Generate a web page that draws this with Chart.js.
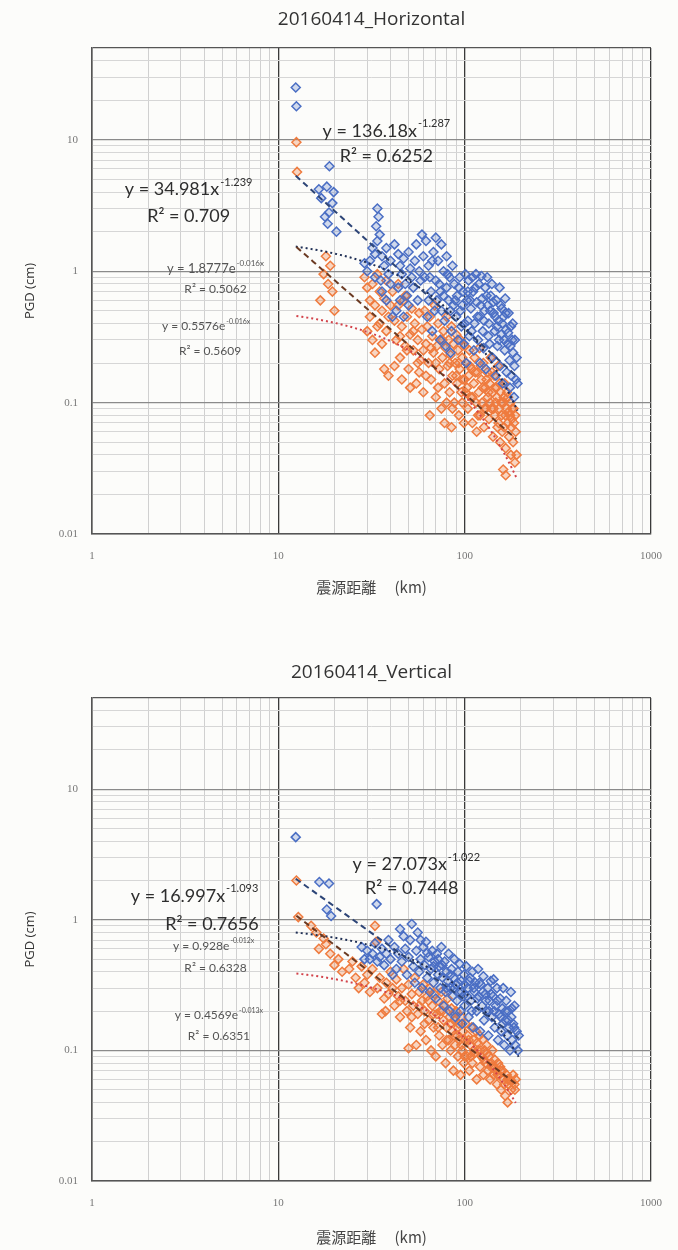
<!DOCTYPE html>
<html>
<head>
<meta charset="utf-8">
<script src="https://cdn.jsdelivr.net/npm/chart.js@4.4.1/dist/chart.umd.min.js"></script>
<style>
  html, body { margin: 0; padding: 0; background: #fcfcfa; overflow: hidden; }
  canvas { display: block; }
</style>
</head>
<body>
<canvas id="chart-h" width="678" height="625"></canvas>
<canvas id="chart-v" width="678" height="625"></canvas>
<script>
// axis ticks
const xTickValues = [1, 10, 100, 1000];
const xTickLabels = ['1', '10', '100', '1000'];
const yTickValues = [0.01, 0.1, 1, 10];
const yTickLabels = ['0.01', '0.1', '1', '10'];

// 20160414_Horizontal : [distance km, PGD cm]
const horizBlue = [
  [12.4,25],[12.5,18],
  [18.8,6.3],[16.5,4.2],[18.2,4.4],[19.8,4.0],[17.0,3.6],[19.5,3.3],[18.7,2.8],[18.4,2.3],[20.5,2.0],[17.8,2.6],
  [34,3.0],[34.5,2.6],[33.5,2.2],[35,1.9],[34,1.7],[32,1.5],[33,1.35],[31,1.2],[29,1.15],[30,1.0],[36,1.3],[37,1.1],
  [38,1.5],[39,0.95],[35.5,0.85],[33,0.9],[36,0.7],[38,0.6],[40,1.2],[40,0.8],
  [42,1.6],[44,1.35],[45,1.1],[46,0.95],[47,1.25],[48,0.8],[49,0.65],[50,1.4],[51,1.05],[52,0.9],[53,0.75],[54,1.2],
  [55,1.6],[56,0.6],[57,1.0],[58,0.85],[59,1.9],[60,1.3],[43,0.5],[47,0.45],[50,0.55],[45,0.6],[44,0.75],[41,0.45],
  [62,1.7],[64,1.1],[65,0.9],[66,0.7],[68,1.4],[70,1.8],[71,0.6],[72,1.2],[73,0.8],[75,1.6],[75,0.5],[77,1.0],
  [78,0.42],[80,0.75],[80,1.3],[82,0.6],[83,0.9],[85,0.35],[86,1.1],[87,0.55],[88,0.8],[90,0.45],[91,0.65],[92,0.3],
  [94,0.9],[95,0.5],[96,0.38],[98,0.7],[99,0.28],[63,0.45],[67,0.35],[69,0.5],[74,0.3],[79,0.27],[84,0.24],
  [61,0.9],[64,0.6],[67,1.2],[70,0.85],[74,0.7],[77,0.65],[81,0.95],[84,0.5],[89,0.6],[93,0.75],[97,0.55],
  [101,0.95],[103,0.6],[104,0.42],[105,0.85],[106,0.32],[108,0.52],[110,0.9],[111,0.7],[112,0.25],[113,0.4],
  [115,0.95],[116,0.58],[118,0.3],[119,0.8],[120,0.45],[121,0.2],[123,0.92],[124,0.62],[125,0.35],[126,0.26],
  [128,0.5],[129,0.75],[130,0.18],[102,0.2],[100,0.4],[104,0.7],[107,0.6],[109,0.35],[114,0.75],[117,0.45],
  [122,0.55],[127,0.42],
  [132,0.9],[133,0.55],[135,0.4],[136,0.28],[138,0.65],[140,0.8],[141,0.22],[143,0.48],[145,0.35],[147,0.16],
  [148,0.6],[150,0.27],[152,0.42],[154,0.75],[155,0.19],[157,0.33],[158,0.52],[160,0.14],[162,0.45],[164,0.25],
  [165,0.62],[167,0.36],[168,0.17],[170,0.28],[172,0.48],[174,0.21],[175,0.13],[177,0.38],[178,0.16],[180,0.3],
  [182,0.24],[184,0.11],[185,0.19],[188,0.15],[190,0.22],[192,0.14],
  [131,0.65],[134,0.32],[137,0.5],[142,0.58],[146,0.45],[149,0.38],[153,0.3],[156,0.55],[159,0.4],[163,0.3],
  [166,0.48],[171,0.34],[176,0.27],[181,0.4],[186,0.3]
];
const horizOrange = [
  [12.5,9.6],[12.6,5.7],
  [18,1.3],[19,1.1],[17.5,0.95],[18.5,0.8],[16.8,0.6],[19.5,0.7],[20,0.5],
  [29,0.9],[30,0.75],[31,0.6],[32,0.8],[33,0.55],[34,0.95],[35,0.7],[36,0.5],[37,0.62],[38,0.85],[39,0.45],
  [30,0.35],[32,0.3],[33,0.24],[35,0.4],[36,0.28],[37,0.18],[38,0.35],[39,0.16],[40,0.55],[31,0.45],[34,0.38],
  [41,0.7],[42,0.42],[43,0.3],[44,0.55],[45,0.22],[46,0.38],[47,0.6],[48,0.27],[49,0.45],[50,0.18],[51,0.33],
  [52,0.52],[53,0.25],[54,0.4],[55,0.14],[56,0.3],[57,0.48],[58,0.21],[59,0.36],[60,0.12],[42,0.19],[46,0.15],
  [51,0.13],[56,0.2],[44,0.8],[48,0.65],[45,0.32],[49,0.25],[53,0.35],[57,0.17],[60,0.25],
  [61,0.5],[62,0.28],[63,0.38],[64,0.2],[65,0.45],[66,0.15],[67,0.32],[68,0.24],[69,0.55],[70,0.11],[71,0.27],
  [72,0.4],[73,0.18],[74,0.3],[75,0.09],[76,0.22],[77,0.35],[78,0.14],[79,0.26],[80,0.45],[81,0.19],[82,0.3],
  [83,0.12],[84,0.23],[85,0.38],[86,0.16],[87,0.28],[88,0.1],[89,0.2],[90,0.33],[91,0.14],[92,0.25],[93,0.08],
  [94,0.18],[95,0.3],[96,0.12],[97,0.22],[98,0.15],[99,0.07],[100,0.27],[65,0.08],[78,0.07],[85,0.065],
  [62,0.16],[66,0.26],[70,0.2],[72,0.13],[76,0.3],[80,0.1],[83,0.2],[86,0.09],[90,0.16],[93,0.2],[97,0.1],
  [101,0.12],[102,0.2],[104,0.09],[105,0.16],[106,0.25],[108,0.11],[109,0.18],[110,0.07],[112,0.14],[113,0.22],
  [115,0.1],[116,0.06],[117,0.17],[119,0.12],[120,0.26],[121,0.08],[123,0.15],[124,0.1],[126,0.2],[127,0.065],
  [129,0.13],[130,0.09],[132,0.17],[133,0.11],[135,0.075],[136,0.14],[138,0.22],[139,0.09],[141,0.12],[142,0.055],
  [144,0.16],[145,0.08],[147,0.1],[148,0.13],[150,0.065],[151,0.19],[153,0.09],[155,0.05],[156,0.12],[158,0.08],
  [160,0.1],[161,0.031],[163,0.065],[164,0.14],[166,0.045],[168,0.09],[170,0.07],[171,0.11],[173,0.055],[175,0.08],
  [177,0.04],[178,0.065],[180,0.09],[182,0.05],[184,0.07],[186,0.035],[188,0.06],[166,0.028],[190,0.04],
  [100,0.15],[103,0.13],[107,0.19],[110,0.11],[114,0.17],[118,0.08],[122,0.19],[125,0.13],[128,0.09],[131,0.15],
  [134,0.12],[137,0.1],[140,0.17],[143,0.09],[146,0.13],[149,0.11],[152,0.07],[154,0.14],[157,0.1],[159,0.06],
  [162,0.11],[165,0.08],[169,0.12],[172,0.085],[176,0.1],[179,0.075],[183,0.09],[187,0.08]
];

// 20160414_Vertical : [distance km, PGD cm]
const vertBlue = [
  [12.4,4.3],[16.6,1.95],[18.7,1.9],[18.2,1.2],[19.2,1.07],[33.7,1.32],[52,0.93],[47,0.75],
  [28,0.62],[30,0.58],[31,0.5],[32,0.55],[33,0.66],[34,0.48],[35,0.52],[36,0.6],[37,0.45],[38,0.55],[39,0.7],
  [40,0.5],[42,0.62],[43,0.42],[44,0.55],[45,0.85],[29,0.5],[41,0.38],
  [46,0.48],[48,0.6],[49,0.38],[50,0.52],[51,0.7],[53,0.44],[54,0.33],[55,0.58],[56,0.8],[57,0.4],[58,0.5],
  [59,0.3],[60,0.62],[61,0.45],[62,0.68],[63,0.36],[64,0.52],[65,0.28],[66,0.42],[67,0.58],[68,0.33],[69,0.48],[70,0.25],
  [71,0.55],[72,0.38],[73,0.44],[74,0.3],[75,0.62],[76,0.36],[77,0.22],[78,0.48],[79,0.28],[80,0.4],[81,0.34],
  [82,0.55],[83,0.2],[84,0.3],[85,0.42],[86,0.26],[87,0.36],[88,0.5],[89,0.18],[90,0.32],[91,0.24],[92,0.4],
  [93,0.28],[94,0.46],[95,0.2],[96,0.34],[97,0.16],[98,0.26],[99,0.38],[100,0.22],
  [58,0.7],[63,0.56],[68,0.44],[72,0.5],[76,0.45],[80,0.3],[84,0.38],[88,0.3],[92,0.33],[96,0.28],
  [102,0.44],[104,0.3],[105,0.18],[107,0.36],[108,0.24],[110,0.4],[111,0.15],[113,0.28],[114,0.33],[116,0.2],
  [118,0.42],[119,0.26],[121,0.14],[122,0.32],[124,0.22],[126,0.37],[127,0.17],[129,0.27],[131,0.2],[133,0.3],
  [134,0.13],[136,0.24],[138,0.34],[140,0.18],[142,0.26],[143,0.35],[145,0.15],[147,0.22],[149,0.3],[151,0.12],
  [153,0.19],[155,0.25],[157,0.14],[159,0.21],[161,0.3],[163,0.11],[165,0.17],[167,0.24],[169,0.13],[171,0.2],
  [173,0.15],[175,0.1],[177,0.28],[178,0.18],[180,0.12],[182,0.16],[185,0.22],[187,0.11],[190,0.14],[193,0.1],[195,0.13],
  [100,0.32],[103,0.26],[106,0.34],[109,0.2],[112,0.3],[117,0.25],[120,0.33],[125,0.28],[130,0.24],[135,0.2],
  [139,0.27],[144,0.2],[150,0.24],[156,0.18],[160,0.16],[166,0.2],[172,0.17],[179,0.21],[184,0.15]
];
const vertOrange = [
  [12.5,2.0],[12.8,1.05],[15,0.9],[16,0.8],[16.5,0.6],[17.5,0.72],[18,0.65],[19,0.55],[20,0.45],[21,0.5],
  [22,0.4],[24,0.42],[25,0.48],[26,0.36],[27,0.3],[28,0.44],[29,0.33],[30,0.38],[31,0.28],[32,0.42],[33,0.9],
  [33.5,0.68],[34,0.3],[35,0.36],[36,0.19],[37,0.25],[37.6,0.2],[38,0.33],[39,0.27],[40,0.4],
  [41,0.3],[42,0.22],[43,0.35],[44,0.26],[45,0.18],[46,0.3],[47,0.42],[48,0.24],[49,0.2],[50,0.104],[50,0.32],
  [51,0.15],[52,0.27],[53,0.22],[54,0.36],[55,0.11],[56,0.19],[57,0.28],[58,0.14],[59,0.24],[60,0.32],
  [45,0.24],[52,0.18],[57,0.22],
  [61,0.2],[62,0.12],[63,0.26],[64,0.17],[65,0.3],[66,0.1],[67,0.22],[68,0.15],[69,0.27],[70,0.09],[71,0.19],
  [72,0.24],[73,0.13],[74,0.2],[75,0.28],[76,0.11],[77,0.17],[78,0.22],[79,0.08],[80,0.15],[81,0.25],[82,0.12],
  [83,0.18],[84,0.1],[85,0.21],[86,0.14],[87,0.07],[88,0.17],[89,0.11],[90,0.2],[91,0.13],[92,0.09],[93,0.16],
  [94,0.12],[95,0.065],[96,0.18],[97,0.1],[98,0.14],[99,0.08],[100,0.12],
  [61,0.16],[64,0.24],[68,0.19],[72,0.15],[76,0.2],[80,0.12],[84,0.16],[88,0.13],[92,0.15],[96,0.11],
  [101,0.16],[103,0.09],[104,0.13],[106,0.07],[107,0.11],[109,0.15],[110,0.08],[112,0.12],[113,0.095],[115,0.14],
  [116,0.06],[118,0.1],[120,0.13],[121,0.075],[123,0.09],[125,0.12],[126,0.065],[128,0.1],[130,0.08],[131,0.11],
  [133,0.07],[135,0.09],[137,0.06],[139,0.08],[141,0.1],[143,0.065],[145,0.085],[147,0.07],[149,0.055],[151,0.08],
  [153,0.065],[155,0.075],[157,0.05],[160,0.07],[162,0.06],[165,0.045],[168,0.065],[170,0.04],[172,0.055],
  [175,0.06],[178,0.05],[182,0.065],[185,0.055],[188,0.06],
  [100,0.09],[105,0.12],[108,0.09],[112,0.1],[117,0.115],[122,0.1],[127,0.085],[132,0.095],[138,0.075],
  [144,0.075],[150,0.065],[156,0.07],[163,0.055],[170,0.06],[178,0.058],[186,0.05]
];

// trendline coefficients as printed on the chart
const horizFits = [
  { kind: 'pow', a: 136.18, b: -1.287, on: 'blue' },
  { kind: 'pow', a: 34.981, b: -1.239, on: 'orange' },
  { kind: 'exp', a: 1.8777, b: -0.016, on: 'blue' },
  { kind: 'exp', a: 0.5576, b: -0.016, on: 'orange' }
];
const vertFits = [
  { kind: 'pow', a: 27.073, b: -1.022, on: 'blue' },
  { kind: 'pow', a: 16.997, b: -1.093, on: 'orange' },
  { kind: 'exp', a: 0.928, b: -0.012, on: 'blue' },
  { kind: 'exp', a: 0.4569, b: -0.013, on: 'orange' }
];

const blueColor = '#4a6ec4';
const orangeColor = '#ef7b3e';
const fitStyles = {
  'pow-blue':   { color: '#2d4577', dash: [6, 4] },
  'pow-orange': { color: '#6b3a22', dash: [6, 4] },
  'exp-blue':   { color: '#1f2f55', dash: [2, 3] },
  'exp-orange': { color: '#d2424a', dash: [2, 3] }
};

function fitPoints(data, fit) {
  const xs = data.map(p => p[0]);
  const lo = Math.min(...xs), hi = Math.max(...xs);
  const pts = [];
  for (let i = 0; i <= 40; i++) {
    const x = lo * Math.pow(hi / lo, i / 40);
    const y = fit.kind === 'pow' ? fit.a * Math.pow(x, fit.b) : fit.a * Math.exp(fit.b * x);
    pts.push({ x, y });
  }
  return pts;
}

function logGridTicks(lo, hi) {
  const ticks = [];
  for (let e = Math.floor(Math.log10(lo)); Math.pow(10, e) <= hi; e++) {
    for (let m = 1; m <= 9; m++) {
      const v = parseFloat((m * Math.pow(10, e)).toPrecision(6));
      if (v >= lo && v <= hi) ticks.push({ value: v });
    }
  }
  return ticks;
}

function isDecade(v) {
  const l = Math.log10(v);
  return Math.abs(l - Math.round(l)) < 1e-6;
}

function labelFor(v, values, labels) {
  const i = values.findIndex(t => Math.abs(t - v) / t < 1e-6);
  return i >= 0 ? labels[i] : '';
}

// equation labels drawn at data positions
const eqLabels = {
  id: 'eqLabels',
  afterDatasetsDraw(chart, args, opts) {
    const { ctx } = chart;
    const xs = chart.scales.x, ys = chart.scales.y;
    (opts.items || []).forEach(it => {
      const px = xs.getPixelForValue(it.x);
      const py = ys.getPixelForValue(it.y);
      const mainFont = it.size + 'px Lato, "Open Sans", sans-serif';
      const supFont = Math.round(it.size * 0.6) + 'px Lato, "Open Sans", sans-serif';
      ctx.save();
      ctx.fillStyle = it.color;
      ctx.textBaseline = 'middle';
      ctx.textAlign = 'left';
      ctx.font = mainFont;
      const w1 = ctx.measureText(it.text).width;
      ctx.font = supFont;
      const w2 = it.sup ? ctx.measureText(it.sup).width + 1 : 0;
      const sx = px - (w1 + w2) / 2;
      ctx.font = mainFont;
      ctx.fillText(it.text, sx, py);
      if (it.sup) {
        ctx.font = supFont;
        ctx.fillText(it.sup, sx + w1 + 1, py - it.size * 0.4);
      }
      ctx.restore();
    });
  }
};

function makeChart(id, title, blue, orange, fits, labels, lay) {
  const datasets = [];
  fits.forEach(f => {
    const st = fitStyles[f.kind + '-' + f.on];
    datasets.push({
      type: 'line',
      data: fitPoints(f.on === 'blue' ? blue : orange, f),
      borderColor: st.color,
      borderDash: st.dash,
      borderWidth: 2,
      pointRadius: 0,
      fill: false,
      tension: 0,
      order: 0
    });
  });
  datasets.push({
    data: orange.map(p => ({ x: p[0], y: p[1] })),
    pointStyle: 'rectRot',
    pointRadius: 4.5,
    borderWidth: 1.5,
    borderColor: orangeColor,
    backgroundColor: 'rgba(239,123,62,0.3)',
    order: 2
  });
  datasets.push({
    data: blue.map(p => ({ x: p[0], y: p[1] })),
    pointStyle: 'rectRot',
    pointRadius: 4.5,
    borderWidth: 1.5,
    borderColor: blueColor,
    backgroundColor: 'rgba(74,110,196,0.25)',
    order: 1
  });

  return new Chart(document.getElementById(id), {
    type: 'scatter',
    data: { datasets },
    plugins: [eqLabels],
    options: {
      responsive: false,
      animation: false,
      layout: { padding: { left: 0, right: 26, top: 0, bottom: 0 } },
      plugins: {
        legend: { display: false },
        tooltip: { enabled: false },
        title: {
          display: true,
          fullSize: false,
          text: title,
          color: '#333',
          font: { family: '"Open Sans", sans-serif', size: 19, weight: 'normal' },
          padding: { top: lay.titleY - 11.4, bottom: lay.plotTop - lay.titleY - 11.4 }
        },
        eqLabels: { items: labels }
      },
      scales: {
        x: {
          type: 'logarithmic',
          min: 1,
          max: 1000,
          afterBuildTicks: s => { s.ticks = logGridTicks(1, 1000); },
          afterFit: s => { s.height = 625 - lay.plotBottom; },
          ticks: {
            autoSkip: false,
            maxRotation: 0,
            padding: 16,
            color: '#777',
            font: { family: '"Liberation Serif", serif', size: 11 },
            callback: v => labelFor(v, xTickValues, xTickLabels)
          },
          grid: {
            drawTicks: false,
            color: c => (c.tick && isDecade(c.tick.value)) ? '#3a3a3a' : '#d0d0d0',
            lineWidth: c => (c.tick && isDecade(c.tick.value)) ? 1.3 : 1
          },
          border: { color: '#555', width: 1.5 },
          title: {
            display: true,
            text: '震源距離　 (km)',
            color: '#444',
            font: { family: '"Noto Sans CJK JP", sans-serif', size: 15 },
            padding: { top: 0, bottom: 625 - lay.axisTitleY - 9 }
          }
        },
        y: {
          type: 'logarithmic',
          min: 0.01,
          max: 50,
          afterBuildTicks: s => { s.ticks = logGridTicks(0.01, 50); },
          afterFit: s => { s.width = 92; },
          ticks: {
            autoSkip: false,
            padding: 14,
            color: '#777',
            font: { family: '"Liberation Serif", serif', size: 11 },
            callback: v => labelFor(v, yTickValues, yTickLabels)
          },
          grid: {
            drawTicks: false,
            color: c => {
              if (!c.tick) return '#d4d4d4';
              if (c.tick.value >= 50) return '#555';
              return isDecade(c.tick.value) ? '#8a8a8a' : '#d6d6d6';
            },
            lineWidth: c => (c.tick && (isDecade(c.tick.value) || c.tick.value >= 50)) ? 1.3 : 1
          },
          border: { color: '#555', width: 1.5 },
          title: {
            display: true,
            text: 'PGD (cm)',
            color: '#333',
            font: { family: '"Open Sans", sans-serif', size: 13 },
            padding: { top: 22, bottom: 0 }
          }
        }
      }
    }
  });
}

const horizLabels = [
  { x: 38, y: 11.7, text: 'y = 136.18x', sup: '-1.287', size: 18, color: '#2e2e2e' },
  { x: 38, y: 7.5, text: 'R² = 0.6252', size: 18, color: '#2e2e2e' },
  { x: 3.3, y: 4.2, text: 'y = 34.981x', sup: '-1.239', size: 18, color: '#2e2e2e' },
  { x: 3.3, y: 2.63, text: 'R² = 0.709', size: 18, color: '#2e2e2e' },
  { x: 4.6, y: 1.04, text: 'y = 1.8777e', sup: '-0.016x', size: 13, color: '#555' },
  { x: 4.6, y: 0.73, text: 'R² = 0.5062', size: 12, color: '#555' },
  { x: 4.1, y: 0.38, text: 'y = 0.5576e', sup: '-0.016x', size: 12, color: '#555' },
  { x: 4.3, y: 0.245, text: 'R² = 0.5609', size: 12, color: '#555' }
];
const vertLabels = [
  { x: 55, y: 2.67, text: 'y = 27.073x', sup: '-1.022', size: 18, color: '#2e2e2e' },
  { x: 52, y: 1.75, text: 'R² = 0.7448', size: 18, color: '#2e2e2e' },
  { x: 3.55, y: 1.52, text: 'y = 16.997x', sup: '-1.093', size: 18, color: '#2e2e2e' },
  { x: 4.4, y: 0.92, text: 'R² = 0.7656', size: 18, color: '#2e2e2e' },
  { x: 4.5, y: 0.63, text: 'y = 0.928e', sup: '-0.012x', size: 12, color: '#555' },
  { x: 4.6, y: 0.43, text: 'R² = 0.6328', size: 12, color: '#555' },
  { x: 4.8, y: 0.185, text: 'y = 0.4569e', sup: '-0.013x', size: 12, color: '#555' },
  { x: 4.8, y: 0.128, text: 'R² = 0.6351', size: 12, color: '#555' }
];

makeChart('chart-h', '20160414_Horizontal', horizBlue, horizOrange, horizFits, horizLabels,
  { titleY: 20, plotTop: 48, plotBottom: 534, axisTitleY: 587 });
makeChart('chart-v', '20160414_Vertical', vertBlue, vertOrange, vertFits, vertLabels,
  { titleY: 48, plotTop: 73, plotBottom: 556, axisTitleY: 612 });
</script>
</body>
</html>
